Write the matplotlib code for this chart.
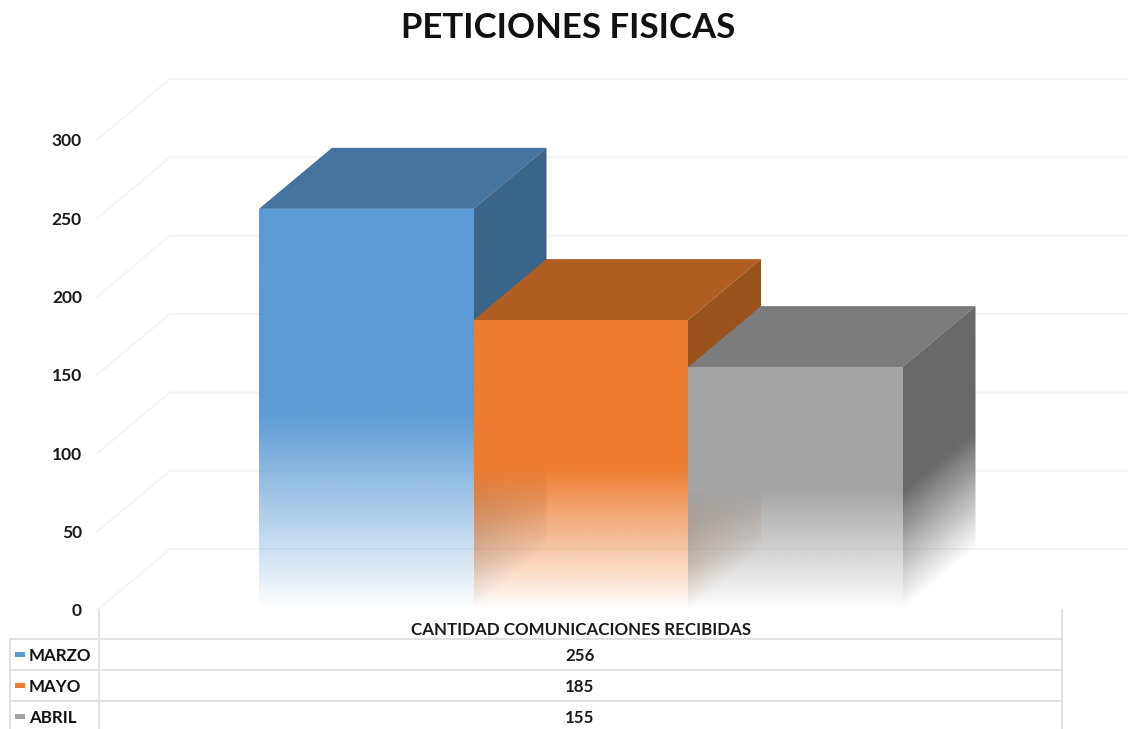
import matplotlib
matplotlib.use("Agg")
import matplotlib.pyplot as plt
import numpy as np
from matplotlib.patches import Polygon

months = ["MARZO", "MAYO", "ABRIL"]
values = [256, 185, 155]
front_colors = ["#5B9BD5", "#ED7D31", "#A5A5A5"]
top_colors = ["#44739F", "#B15E23", "#7C7C7C"]
side_colors = ["#3A6589", "#9A521C", "#696969"]
y_ticks = [0, 50, 100, 150, 200, 250, 300]
title = "PETICIONES FISICAS"
table_header = "CANTIDAD COMUNICACIONES RECIBIDAS"

W, H = 1128, 729
BAR_PX = 214.5
BAR_X0 = 259
BASE_Y = 610
PX_PER_VAL = 1.567
DEPTH_X = 73 / BAR_PX
DEPTH_Y = 61 / PX_PER_VAL
FADE = 0.49
FONT = "Lato"
GRID = "#F4F4F4"
TABLE = "#E2E2E2"

fig = plt.figure(figsize=(W / 100, H / 100), dpi=100)
ax = fig.add_axes([0, 0, 1, 1])
ax.axis("off")
xlim = (-BAR_X0 / BAR_PX, (W - BAR_X0) / BAR_PX)
ylim = ((BASE_Y - H) / PX_PER_VAL, BASE_Y / PX_PER_VAL)

# pixel overlay for the table and text
px = fig.add_axes([0, 0, 1, 1])
px.set_xlim(0, W)
px.set_ylim(H, 0)
px.axis("off")
px.patch.set_alpha(0)

# floor to wall gridlines
wall_x = (97 - BAR_X0) / BAR_PX
for v in y_ticks:
    ax.plot([wall_x, wall_x + DEPTH_X, xlim[1]], [v, v + DEPTH_Y, v + DEPTH_Y],
            color=GRID, lw=1.4, zorder=1)
    px.text(82, BASE_Y - v * PX_PER_VAL + 1.5, str(v), ha="right", va="center",
            fontsize=12.5, fontfamily=FONT, fontweight="bold", color="#1a1a1a")


def fade_face(color, val, corners, alpha_fn, z):
    # face is a gradient image clipped to its polygon
    xs = [c[0] for c in corners]
    ys = [c[1] for c in corners]
    ext = [min(xs), max(xs), min(ys), max(ys)]
    gx, gy = np.meshgrid(np.linspace(ext[0], ext[1], 200),
                         np.linspace(ext[2], ext[3], 500))
    rgba = np.zeros(gx.shape + (4,))
    rgba[..., :3] = matplotlib.colors.to_rgb(color)
    rgba[..., 3] = np.clip(alpha_fn(gx, gy) / (FADE * val), 0, 1)
    im = ax.imshow(rgba, extent=ext, origin="lower", aspect="auto", zorder=z,
                   interpolation="bilinear")
    im.set_clip_path(Polygon(corners, closed=True, transform=ax.transData))


for i, val in enumerate(values):
    z = 2 + i * 3
    x0, x1 = i, i + 1
    ax.add_patch(Polygon([(x0, val), (x1, val), (x1 + DEPTH_X, val + DEPTH_Y),
                          (x0 + DEPTH_X, val + DEPTH_Y)],
                         closed=True, fc=top_colors[i], ec="none", zorder=z))
    side = [(x1, 0), (x1 + DEPTH_X, DEPTH_Y), (x1 + DEPTH_X, val + DEPTH_Y), (x1, val)]
    fade_face(side_colors[i], val, side,
              lambda gx, gy, x1=x1: gy - (gx - x1) / DEPTH_X * DEPTH_Y, z + 1)
    front = [(x0, 0), (x1, 0), (x1, val), (x0, val)]
    fade_face(front_colors[i], val, front, lambda gx, gy: gy, z + 2)

ax.set_xlim(*xlim)
ax.set_ylim(*ylim)

px.text(568, 28, title, ha="center", va="center", fontsize=25,
        fontfamily=FONT, fontweight="bold", color="#111111")

# data table under the plot
rows_y = [639, 670, 701]
px.plot([99, 99], [610, H], color=TABLE, lw=1.4)
px.plot([1062, 1062], [610, H], color=TABLE, lw=1.4)
px.plot([10, 10], [rows_y[0], H], color=TABLE, lw=1.4)
for y in rows_y:
    px.plot([10, 1062], [y, y], color=TABLE, lw=1.4)
px.text(581, 630, table_header, ha="center", va="center", fontsize=12.2,
        fontfamily=FONT, fontweight="bold", color="#1a1a1a")
for name, val, col, y in zip(months, values, front_colors, rows_y):
    cy = y + 16
    px.add_patch(Polygon([(15, cy - 3), (25, cy - 3), (25, cy + 2), (15, cy + 2)],
                         closed=True, fc=col, ec="none"))
    px.text(29, cy + 1, name, ha="left", va="center", fontsize=12.2,
            fontfamily=FONT, fontweight="bold", color="#111111")
    px.text(580, cy + 1, str(val), ha="center", va="center", fontsize=12.2,
            fontfamily=FONT, fontweight="bold", color="#1a1a1a")

fig.savefig("out.png", dpi=100)
